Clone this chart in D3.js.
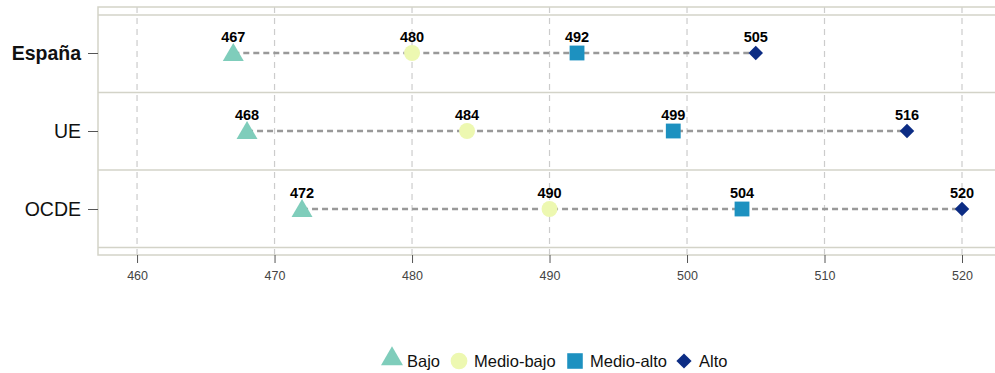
<!DOCTYPE html>
<html><head><meta charset="utf-8">
<script src="https://cdn.jsdelivr.net/npm/d3@7"></script>
<style>body{margin:0;background:#fff;}svg{display:block;font-family:"Liberation Sans",Arial,sans-serif;}</style>
</head><body>
<svg id="c" width="995" height="373"></svg>
<script>
const categories = ["España", "UE", "OCDE"];
const seriesNames = ["Bajo", "Medio-bajo", "Medio-alto", "Alto"];
const bajo = [467, 468, 472];
const medioBajo = [480, 484, 490];
const medioAlto = [492, 499, 504];
const alto = [505, 516, 520];
const xTicks = [460, 470, 480, 490, 500, 510, 520];
const colors = ["#7fcdbb", "#edf8b1", "#1d91c0", "#0c2c84"];
const shapes = [d3.symbolTriangle, d3.symbolCircle, d3.symbolSquare, d3.symbolSquare];
const sizes = [190, 200, 220, 105];
const rotations = [0, 0, 0, 45];

const series = [bajo, medioBajo, medioAlto, alto];
const svg = d3.select("#c");
const L = 98, R = 1000, T = 7, B = 255;
const x = d3.scaleLinear().domain([457.16, 460 + (R - 137) / 13.75]).range([L, R]);
const y = d3.scalePoint().domain(categories).range([53, 209]);
const panelLine = "#d3d3c8";

svg.append("g").selectAll("line").data(xTicks).join("line")
  .attr("x1", d => x(d)).attr("x2", d => x(d)).attr("y1", T).attr("y2", B)
  .attr("stroke", "#cccccc").attr("stroke-width", 1.2).attr("stroke-dasharray", "6,5");

const seps = [15, 92.5, 170, 247.5];
svg.append("g").selectAll("line").data(seps).join("line")
  .attr("x1", L).attr("x2", R).attr("y1", d => d).attr("y2", d => d)
  .attr("stroke", panelLine).attr("stroke-width", 1.5);

svg.append("rect").attr("x", L).attr("y", T).attr("width", R - L).attr("height", B - T)
  .attr("fill", "none").attr("stroke", panelLine).attr("stroke-width", 1.5);

const xAxis = svg.append("g").attr("transform", `translate(0,${B})`)
  .call(d3.axisBottom(x).tickValues(xTicks).tickSize(8).tickPadding(8).tickFormat(d3.format("d")));
xAxis.select(".domain").remove();
xAxis.selectAll("line").attr("stroke", "#555");
xAxis.selectAll("text").attr("fill", "#444").attr("font-size", "12.5px").attr("font-family", "Liberation Sans, Arial, sans-serif");

const yAxis = svg.append("g").attr("transform", `translate(${L},0)`)
  .call(d3.axisLeft(y).tickSize(10).tickPadding(7));
yAxis.select(".domain").remove();
yAxis.selectAll("line").attr("stroke", "#555");
yAxis.selectAll("text").attr("fill", "#111").attr("font-size", "19.5px")
  .attr("font-family", "Liberation Sans, Arial, sans-serif")
  .attr("font-weight", d => d === "España" ? "bold" : "normal");

svg.append("g").selectAll("line").data(categories).join("line")
  .attr("x1", (d, i) => x(d3.min(series, s => s[i])))
  .attr("x2", (d, i) => x(d3.max(series, s => s[i])))
  .attr("y1", d => y(d)).attr("y2", d => y(d))
  .attr("stroke", "#999").attr("stroke-width", 2.5).attr("stroke-dasharray", "6,4");

series.forEach((s, si) => {
  const g = svg.append("g");
  g.selectAll("path").data(categories).join("path")
    .attr("transform", (d, i) => `translate(${x(s[i])},${y(d) + (si === 0 ? 2 : 0)}) rotate(${rotations[si]})`)
    .attr("d", d3.symbol().type(shapes[si]).size(sizes[si]))
    .attr("fill", colors[si]);
  g.selectAll("text").data(categories).join("text")
    .attr("x", (d, i) => x(s[i])).attr("y", d => y(d) - 11)
    .attr("text-anchor", "middle").attr("font-size", "14.5px").attr("font-weight", "bold")
    .attr("fill", "#000").text((d, i) => s[i]);
});

const legendItems = [
  {sx: 392, tx: 407}, {sx: 459, tx: 474}, {sx: 575, tx: 590}, {sx: 684, tx: 699}
];
const lg = svg.append("g");
seriesNames.forEach((n, i) => {
  lg.append("path").attr("transform", `translate(${legendItems[i].sx},${i === 0 ? 359 : 361}) rotate(${rotations[i]})`)
    .attr("d", d3.symbol().type(shapes[i]).size(sizes[i] * 1.1)).attr("fill", colors[i]);
  lg.append("text").attr("x", legendItems[i].tx).attr("y", 367).attr("font-size", "16.5px")
    .attr("fill", "#111").text(n);
});
</script>
</body></html>
